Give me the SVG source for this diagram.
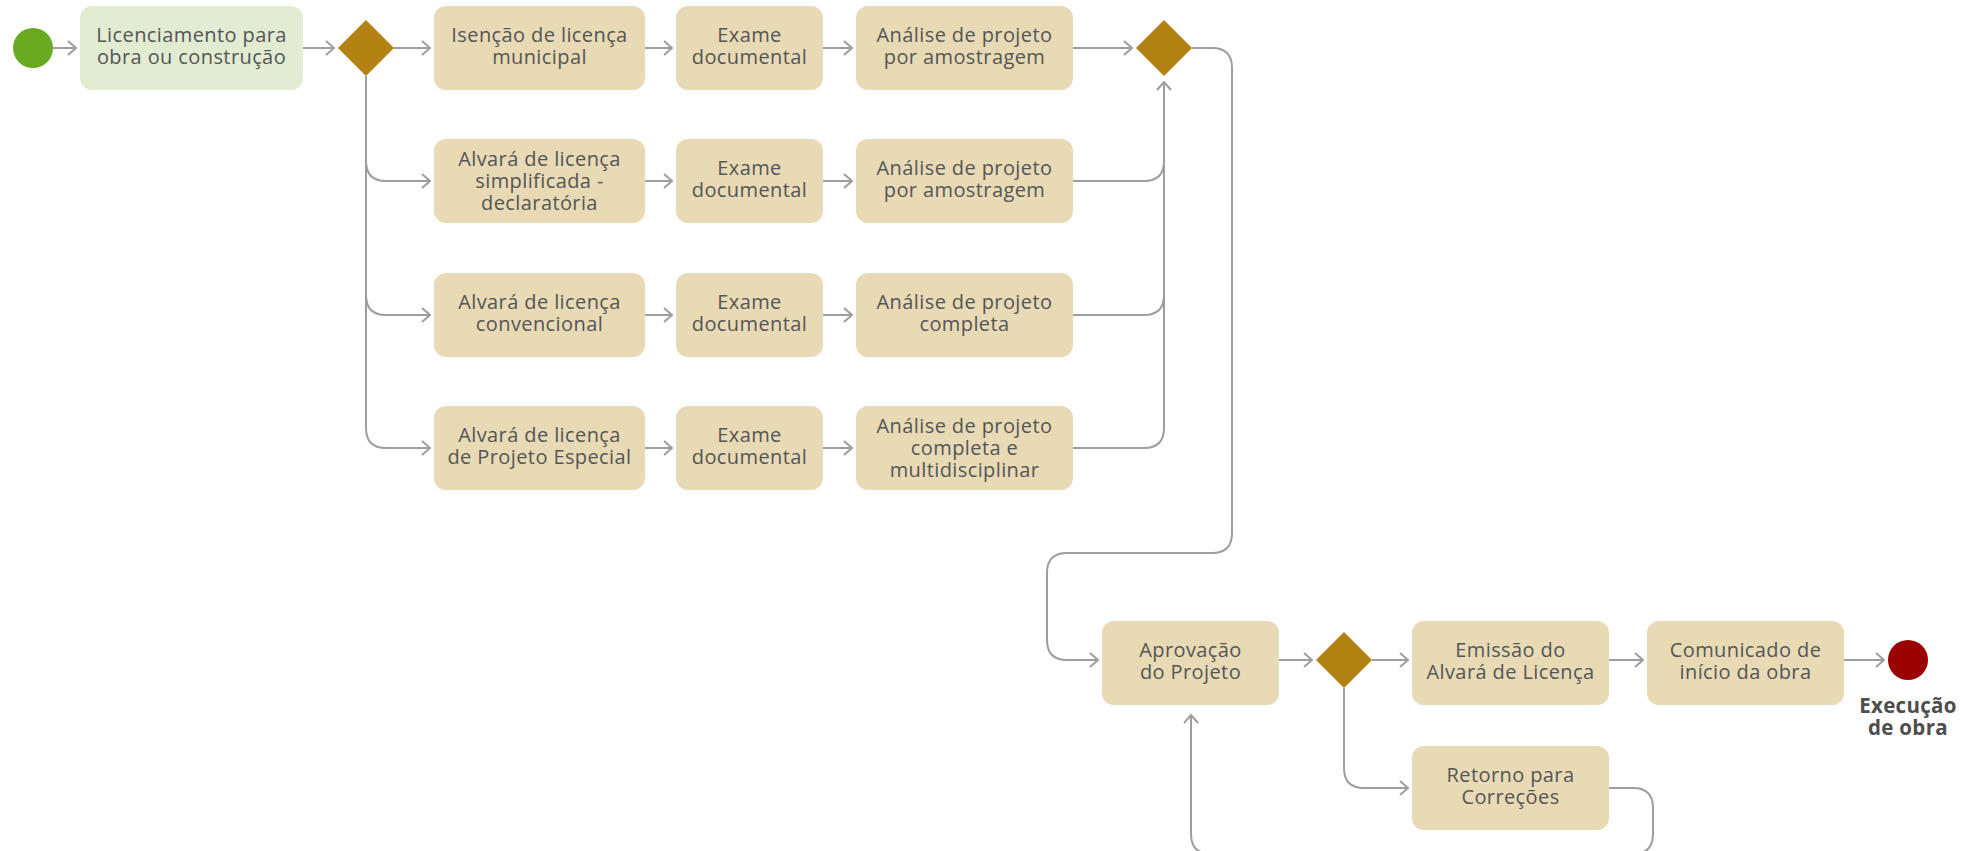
<svg xmlns="http://www.w3.org/2000/svg" width="1980" height="851" viewBox="0 0 1980 851">
<defs>
<style>
.box{fill:#e8dab5}
.boxg{fill:#e2ecd3}
.dia{fill:#b38212}
.t{font-family:"Open Sans","Liberation Sans",sans-serif;font-size:20px;letter-spacing:0.4px;fill:#555555;text-anchor:middle}
.tb{font-family:"Open Sans","Liberation Sans",sans-serif;font-size:20.5px;font-weight:bold;letter-spacing:0.3px;fill:#4d4d4d;text-anchor:middle}
.c{fill:none;stroke:#9e9e9e;stroke-width:2}
.a{marker-end:url(#arr)}
</style>
<marker id="arr" viewBox="0 0 10 16" refX="9" refY="8" markerWidth="10" markerHeight="16" markerUnits="userSpaceOnUse" orient="auto">
<path d="M1,1 L9,8 L1,15" fill="none" stroke="#9e9e9e" stroke-width="2"/>
</marker>
</defs>
<rect width="1980" height="851" fill="#ffffff"/>

<g id="connectors">
<path class="c a" d="M53,48 H76"/>
<path class="c a" d="M303,48 H334"/>
<path class="c a" d="M394,48 H430"/>
<path class="c a" d="M366,76 V161 Q366,181 386,181 H430"/>
<path class="c a" d="M366,161 V295 Q366,315 386,315 H430"/>
<path class="c a" d="M366,295 V428 Q366,448 386,448 H430"/>
<path class="c a" d="M645,48 H672"/>
<path class="c a" d="M645,181 H672"/>
<path class="c a" d="M645,315 H672"/>
<path class="c a" d="M645,448 H672"/>
<path class="c a" d="M823,48 H852"/>
<path class="c a" d="M823,181 H852"/>
<path class="c a" d="M823,315 H852"/>
<path class="c a" d="M823,448 H852"/>
<path class="c a" d="M1073,48 H1132"/>
<path class="c" d="M1073,181 H1144 Q1164,181 1164,161"/>
<path class="c" d="M1073,315 H1144 Q1164,315 1164,295"/>
<path class="c a" d="M1073,448 H1144 Q1164,448 1164,428 V82"/>
<path class="c a" d="M1192,48 H1212 Q1232,48 1232,68 V533 Q1232,553 1212,553 H1067 Q1047,553 1047,573 V640 Q1047,660 1067,660 H1098"/>
<path class="c a" d="M1279,660 H1312"/>
<path class="c a" d="M1372,660 H1408"/>
<path class="c a" d="M1344,688 V768 Q1344,788 1364,788 H1408"/>
<path class="c a" d="M1609,660 H1643"/>
<path class="c a" d="M1844,660 H1884"/>
<path class="c a" d="M1609,788 H1633 Q1653,788 1653,808 V834 Q1653,854 1633,854 H1211 Q1191,854 1191,834 V715"/>
</g>

<g id="start"><circle cx="33" cy="48" r="20" fill="#6aaa22"/></g>

<g id="n-licenciamento">
<rect class="boxg" x="80" y="6" width="223" height="84" rx="12"/>
<text class="t" x="191.5" y="42">Licenciamento para<tspan x="191.5" dy="22">obra ou construção</tspan></text>
</g>

<g id="d1"><polygon class="dia" points="366,20 394,48 366,76 338,48"/></g>

<g id="n-isencao">
<rect class="box" x="434" y="6" width="211" height="84" rx="12"/>
<text class="t" x="539.5" y="42">Isenção de licença<tspan x="539.5" dy="22">municipal</tspan></text>
</g>
<g id="n-simplificada">
<rect class="box" x="434" y="139" width="211" height="84" rx="12"/>
<text class="t" x="539.5" y="165.5">Alvará de licença<tspan x="539.5" dy="22">simplificada -</tspan><tspan x="539.5" dy="22">declaratória</tspan></text>
</g>
<g id="n-convencional">
<rect class="box" x="434" y="273" width="211" height="84" rx="12"/>
<text class="t" x="539.5" y="309">Alvará de licença<tspan x="539.5" dy="22">convencional</tspan></text>
</g>
<g id="n-especial">
<rect class="box" x="434" y="406" width="211" height="84" rx="12"/>
<text class="t" x="539.5" y="442">Alvará de licença<tspan x="539.5" dy="22">de Projeto Especial</tspan></text>
</g>

<g id="n-exame1">
<rect class="box" x="676" y="6" width="147" height="84" rx="12"/>
<text class="t" x="749.5" y="42">Exame<tspan x="749.5" dy="22">documental</tspan></text>
</g>
<g id="n-exame2">
<rect class="box" x="676" y="139" width="147" height="84" rx="12"/>
<text class="t" x="749.5" y="175">Exame<tspan x="749.5" dy="22">documental</tspan></text>
</g>
<g id="n-exame3">
<rect class="box" x="676" y="273" width="147" height="84" rx="12"/>
<text class="t" x="749.5" y="309">Exame<tspan x="749.5" dy="22">documental</tspan></text>
</g>
<g id="n-exame4">
<rect class="box" x="676" y="406" width="147" height="84" rx="12"/>
<text class="t" x="749.5" y="442">Exame<tspan x="749.5" dy="22">documental</tspan></text>
</g>

<g id="n-analise1">
<rect class="box" x="856" y="6" width="217" height="84" rx="12"/>
<text class="t" x="964.5" y="42">Análise de projeto<tspan x="964.5" dy="22">por amostragem</tspan></text>
</g>
<g id="n-analise2">
<rect class="box" x="856" y="139" width="217" height="84" rx="12"/>
<text class="t" x="964.5" y="175">Análise de projeto<tspan x="964.5" dy="22">por amostragem</tspan></text>
</g>
<g id="n-analise3">
<rect class="box" x="856" y="273" width="217" height="84" rx="12"/>
<text class="t" x="964.5" y="309">Análise de projeto<tspan x="964.5" dy="22">completa</tspan></text>
</g>
<g id="n-analise4">
<rect class="box" x="856" y="406" width="217" height="84" rx="12"/>
<text class="t" x="964.5" y="432.5">Análise de projeto<tspan x="964.5" dy="22">completa e</tspan><tspan x="964.5" dy="22">multidisciplinar</tspan></text>
</g>

<g id="d2"><polygon class="dia" points="1164,20 1192,48 1164,76 1136,48"/></g>

<g id="n-aprovacao">
<rect class="box" x="1102" y="621" width="177" height="84" rx="12"/>
<text class="t" x="1190.5" y="657">Aprovação<tspan x="1190.5" dy="22">do Projeto</tspan></text>
</g>

<g id="d3"><polygon class="dia" points="1344,632 1372,660 1344,688 1316,660"/></g>

<g id="n-emissao">
<rect class="box" x="1412" y="621" width="197" height="84" rx="12"/>
<text class="t" x="1510.5" y="657">Emissão do<tspan x="1510.5" dy="22">Alvará de Licença</tspan></text>
</g>
<g id="n-comunicado">
<rect class="box" x="1647" y="621" width="197" height="84" rx="12"/>
<text class="t" x="1745.5" y="657">Comunicado de<tspan x="1745.5" dy="22">início da obra</tspan></text>
</g>
<g id="n-retorno">
<rect class="box" x="1412" y="746" width="197" height="84" rx="12"/>
<text class="t" x="1510.5" y="782">Retorno para<tspan x="1510.5" dy="22">Correções</tspan></text>
</g>

<g id="end">
<circle cx="1908" cy="660" r="20" fill="#9b0000"/>
<text class="tb" x="1908" y="713">Execução<tspan x="1908" dy="22">de obra</tspan></text>
</g>
</svg>
